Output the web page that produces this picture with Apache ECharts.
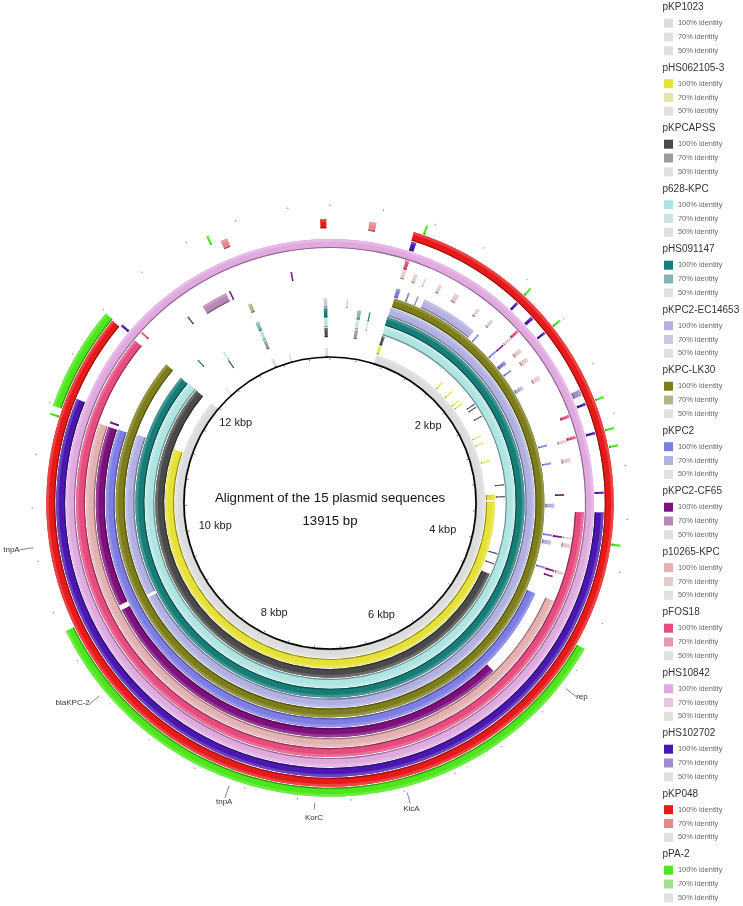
<!DOCTYPE html>
<html>
<head>
<meta charset="utf-8">
<style>html,body{margin:0;padding:0;background:#fff}#c{width:743px;height:906px}</style>
<script src="https://cdn.jsdelivr.net/npm/echarts@6/dist/echarts.min.js"></script>
</head>
<body>
<div id="c"></div>
<script>
// sequence order, inner ring to outer ring
const ringNames = ['pKP1023','pHS062105-3','pKPCAPSS','p628-KPC','pHS091147','pKPC2-EC14653','pKPC-LK30','pKPC2','pKPC2-CF65','p10265-KPC','pFOS18','pHS10842','pHS102702','pKP048','pPA-2'];
const color100 = ['#dcdcdc','#e6e136','#4a4a4a','#aee4e2','#177d78','#b0b0e2','#7d7d1c','#7d7de4','#7d107d','#e4b0b2','#e64c80','#e0aae0','#4a18b0','#e61a1a','#4ce61a'];
const color70  = ['#e0e0e0','#e4e4a8','#9c9c9c','#cbe4e0','#82b5b2','#cbc8e4','#b4b488','#b4b2e2','#b888b4','#e4cccc','#e498b4','#e4c8e0','#a08cc8','#e48888','#a0e08c'];
const color50  = '#e0e0e0';
const genomeLength = 13915;
const ringWidth = 8.9, ringStep = 9.9, ring1Outer = 155;

// each entry: start bp, end bp, and 1 when the hit is drawn at the 70% identity shade
const hits_pKP1023 = [[676,11985],[12270,12285],[13055,13095],[13315,13335],[13845,13885]];
const hits_pHS062105 = [[670,705],[1652,1668],[1830,1846],[1983,1999],[2042,2058],[2545,2561],[2647,2663],[2899,2915],[3365,3440],[3460,11170]];
const hits_pKPCAPSS = [[670,705],[316,356,1],[2143,2157],[2186,2200],[2320,2334],[3240,3254],[3391,3405],[4126,4140],[4260,4274],[4406,11985],[12538,12552],[13050,13090,1],[13845,13885]];
const hits_p628 = [[668,11990],[314,354,1],[450,464],[12548,12562],[13050,13090],[13845,13885]];
const hits_pHS091147 = [[664,11980],[316,356,1],[450,464],[12256,12270],[13047,13087,1],[13845,13885]];
const hits_pKPC2EC = [[668,9375],[9410,11190],[183,197,1],[13845,13885,1]];
const hits_pKPCLK30 = [[676,11990],[13047,13087,1]];
const hits_pKPC2 = [[668,708],[789,805],[887,899],[963,1542,1],[1594,1608],[1830,1846],[1965,2001],[2072,2088],[2265,2305,1],[2895,2911],[3077,3093],[3486,3526,1],[3792,3808],[3854,3894,1],[4120,4136],[4398,11175]];
const hits_pKPC2CF65 = [[1835,1849],[3394,3410],[3795,3811],[4123,4139],[4178,4194],[5249,9385],[9435,11170],[11205,11225],[12465,12477],[12640,12895,1],[12928,12942],[13540,13554]];
const hits_p10265 = [[670,705,1],[780,814,1],[887,899,1],[1025,1055,1],[1190,1236,1],[1435,1463,1],[1595,1623,1],[1830,1854,1],[1965,2005,1],[2065,2105,1],[2266,2306,1],[2897,2925,1],[3068,3108,1],[3795,3811,1],[3854,3894,1],[4117,4145,1],[4394,11170]];
const hits_pFOS18 = [[670,702],[1826,1850],[2696,2720],[2888,2912],[3560,11975],[12057,12073]];
const hits_pHS10842 = [[0,7000],[7000,13915]];
const hits_pHS102702 = [[670,710],[1656,1676],[1825,1851],[1984,2004],[2535,2585,1],[2650,2670],[2897,2917],[3387,3403],[3556,11300],[11990,12010]];
const hits_pKP048 = [[665,11980],[13040,13094,1],[13838,13886],[308,364,1]];
const hits_pPA2 = [[738,754],[1658,1674],[1986,2002],[2652,2668],[2899,2915],[3033,3049],[3795,3811],[4632,9436],[11112,11128],[11186,11990],[12952,12968]];
const ringHits = [hits_pKP1023,hits_pHS062105,hits_pKPCAPSS,hits_p628,hits_pHS091147,hits_pKPC2EC,hits_pKPCLK30,hits_pKPC2,hits_pKPC2CF65,hits_p10265,hits_pFOS18,hits_pHS10842,hits_pHS102702,hits_pKP048,hits_pPA2];

// scale labels: kbp position and the radius they sit at
const kbpPositions = [2000,4000,6000,8000,10000,12000];
const kbpLabelRadius = [125,116,123,123,117,124];
const tickStep = 400;
// gene annotations: name, bp of leader, leader radii, bp of text, radius of text
const geneNames = ['rep','KlcA','KorC','tnpA','blaKPC-2','tnpA'];
const geneLeaderBp = [4955,6380,7070,7716,8894,10105];
const geneLeaderInner = [300,300,300,300,301,300];
const geneLeaderOuter = [314,311,307,313,314,314];
const geneTextBp = [4932,6380,7070,7711,8972,10112];
const geneTextRadius = [318,316,315,317,326,322];

const titleLines = ['Alignment of the 15 plasmid sequences','13915 bp'];
const legendLevels = ['100% identity','70% identity','50% identity'];

function mix(hex, target, t){
  const v=[1,3,5].map(i=>parseInt(hex.substr(i,2),16));
  return 'rgb('+v.map(c=>Math.round(c+(target-c)*t)).join(',')+')';
}
function angleOf(api,cs,r,bp){const p=api.coord([r,bp]);return Math.atan2(p[1]-cs.cy,p[0]-cs.cx);}

function hitRender(params,api){
  const cs=params.coordSys, ring=api.value(0), s=api.value(1), e=api.value(2), lvl=api.value(3);
  const rOut=ring1Outer+ring*ringStep, rIn=rOut-ringWidth;
  const a1=angleOf(api,cs,rOut,s); let a2=angleOf(api,cs,rOut,e);
  if(a2<=a1) a2+=Math.PI*2;
  const c=(lvl?color70:color100)[ring];
  const band=(r0,r,fill)=>({type:'sector',shape:{cx:cs.cx,cy:cs.cy,r:r,r0:r0,startAngle:a1,endAngle:a2,clockwise:true},style:{fill:fill}});
  return {type:'group',children:[
    band(rIn,rOut,c),
    band(rOut-2.6,rOut,mix(c,255,.18)),
    band(rIn,rIn+1.1,mix(c,0,.38))
  ]};
}
function tickRender(params,api){
  const a=api.coord([api.value(0),api.value(2)]), b=api.coord([api.value(1),api.value(2)]);
  return {type:'line',shape:{x1:a[0],y1:a[1],x2:b[0],y2:b[1]},style:{stroke:'#777',lineWidth:1}};
}
function backboneRender(params,api){
  const cs=params.coordSys, p=api.coord([api.value(0),0]);
  const r=Math.hypot(p[0]-cs.cx,p[1]-cs.cy);
  return {type:'circle',shape:{cx:cs.cx,cy:cs.cy,r:r},style:{fill:'none',stroke:'#000',lineWidth:1.6}};
}
function kbpRender(params,api){
  const p=api.coord([api.value(0),api.value(1)]);
  return {type:'text',style:{x:p[0],y:p[1],text:(api.value(1)/1000)+' kbp',fill:'#222',font:'11px "Liberation Sans"',textAlign:'center',textVerticalAlign:'middle'}};
}
function geneRender(params,api){
  const a=api.coord([api.value(1),api.value(0)]), b=api.coord([api.value(2),api.value(0)]), t=api.coord([api.value(3),api.value(4)]);
  return {type:'group',children:[
    {type:'line',shape:{x1:a[0],y1:a[1],x2:b[0],y2:b[1]},style:{stroke:'#666',lineWidth:.8}},
    {type:'text',style:{x:t[0],y:t[1],text:geneNames[params.dataIndex],fill:'#333',font:'8px "Liberation Sans"',textAlign:'center',textVerticalAlign:'middle'}}
  ]};
}

const polarBase={coordinateSystem:'polar',silent:true,animation:false,clip:false};
const series=[];
ringHits.forEach((hits,ring)=>{
  series.push(Object.assign({type:'custom',name:ringNames[ring],renderItem:hitRender,encode:{radius:0,angle:1},
    data:hits.map(h=>[ring,h[0],h[1],h[2]||0])},polarBase));
});
const ticks=[];
for(let bp=0;bp<genomeLength;bp+=tickStep){ticks.push([143.2,144.8,bp]);ticks.push([297,298.4,bp]);}
series.push(Object.assign({type:'custom',name:'ticks',renderItem:tickRender,encode:{radius:0,angle:2},data:ticks},polarBase));
series.push(Object.assign({type:'custom',name:'backbone',renderItem:backboneRender,encode:{radius:0},data:[[146]]},polarBase));
series.push(Object.assign({type:'custom',name:'kbp',renderItem:kbpRender,encode:{radius:0,angle:1},
  data:kbpPositions.map((k,i)=>[kbpLabelRadius[i],k])},polarBase));
series.push(Object.assign({type:'custom',name:'genes',renderItem:geneRender,encode:{radius:1,angle:0},
  data:geneNames.map((n,i)=>[geneLeaderBp[i],geneLeaderInner[i],geneLeaderOuter[i],geneTextRadius[i],geneTextBp[i]])},polarBase));

// legend column
const legendEls=[];
ringNames.forEach((name,i)=>{
  const y0=7.7+i*60.5;
  legendEls.push({type:'text',x:662.5,y:y0,style:{text:name,fill:'#333',font:'10px "Liberation Sans"',textVerticalAlign:'middle'}});
  [color100[i],color70[i],color50].forEach((c,j)=>{
    const yc=y0+15.5+j*13.8;
    legendEls.push({type:'rect',shape:{x:664,y:yc-4.5,width:9,height:9},style:{fill:c}});
    legendEls.push({type:'text',x:678,y:yc,style:{text:legendLevels[j],fill:'#666',font:'7.4px "Liberation Sans"',textVerticalAlign:'middle'}});
  });
});
titleLines.forEach((t,i)=>{
  legendEls.push({type:'text',x:330,y:498+i*23,style:{text:t,fill:'#111',font:'13.2px "Liberation Sans"',textAlign:'center',textVerticalAlign:'middle'}});
});

const chart=echarts.init(document.getElementById('c'),null,{renderer:'canvas'});
chart.setOption({
  animation:false,
  polar:{center:[330,503],radius:[0,340]},
  angleAxis:{type:'value',min:0,max:genomeLength,startAngle:90,clockwise:true,show:false},
  radiusAxis:{type:'value',min:0,max:340,show:false},
  graphic:legendEls,
  series:series
});
</script>
</body>
</html>
